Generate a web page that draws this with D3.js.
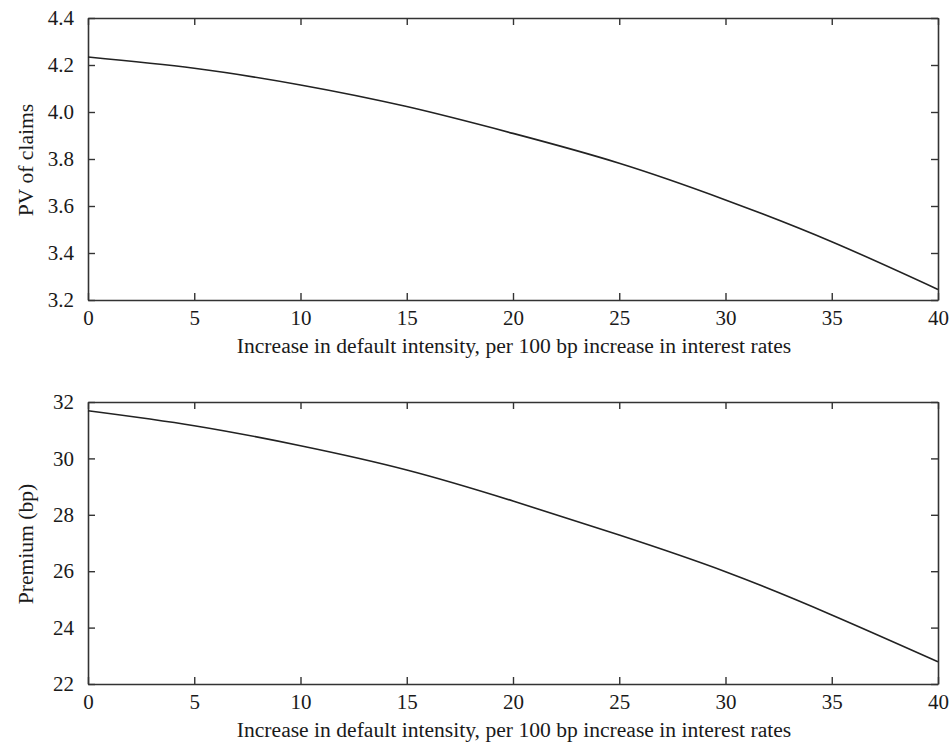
<!DOCTYPE html>
<html>
<head>
<meta charset="utf-8">
<script src="https://cdn.jsdelivr.net/npm/d3@7"></script>
<style>
  html, body { margin: 0; padding: 0; background: #fff; }
  svg { display: block; }
  text { font-family: "Liberation Serif", "Times New Roman", serif; fill: #1a1a1a; }
</style>
</head>
<body>
<svg id="chart" width="951" height="742"></svg>
<script>
// ---- data ----
const intensity = [0, 5, 10, 15, 20, 25, 30, 35, 40];
const pvClaims  = [4.234, 4.186, 4.115, 4.023, 3.909, 3.782, 3.626, 3.448, 3.245];
const premium   = [31.69, 31.16, 30.45, 29.59, 28.49, 27.28, 25.98, 24.45, 22.79];
const xTicks      = [0, 5, 10, 15, 20, 25, 30, 35, 40];
const pvTicks     = [3.2, 3.4, 3.6, 3.8, 4.0, 4.2, 4.4];
const premTicks   = [22, 24, 26, 28, 30, 32];
const xLabel   = "Increase in default intensity, per 100 bp increase in interest rates";
const pvLabel  = "PV of claims";
const premLabel = "Premium (bp)";

const svg = d3.select("#chart");
const left = 88, right = 938;
const axisColor = "#333";
const tickFont = 21;
const labelFont = 21.6;

function panel(top, bottom, yDomain, yTicks, yFmt, ys, yLabel) {
  const g = svg.append("g");
  const x = d3.scaleLinear().domain([0, 40]).range([left, right]);
  const y = d3.scaleLinear().domain(yDomain).range([bottom, top]);
  const tick = 7;

  const gb = g.append("g").attr("transform", `translate(0,${bottom})`)
    .call(d3.axisBottom(x).tickValues(xTicks).tickFormat(d3.format("d"))
      .tickSizeInner(-tick).tickSizeOuter(0).tickPadding(10));
  const gt = g.append("g").attr("transform", `translate(0,${top})`)
    .call(d3.axisTop(x).tickValues(xTicks).tickFormat("")
      .tickSizeInner(-tick).tickSizeOuter(0));
  const gl = g.append("g").attr("transform", `translate(${left},0)`)
    .call(d3.axisLeft(y).tickValues(yTicks).tickFormat(yFmt)
      .tickSizeInner(-tick).tickSizeOuter(0).tickPadding(14));
  const gr = g.append("g").attr("transform", `translate(${right},0)`)
    .call(d3.axisRight(y).tickValues(yTicks).tickFormat("")
      .tickSizeInner(-tick).tickSizeOuter(0));

  [gb, gt, gl, gr].forEach(a => {
    a.attr("font-family", null).attr("font-size", null);
    a.select(".domain").attr("stroke", axisColor).attr("stroke-width", 1.6);
    a.selectAll(".tick line").attr("stroke", axisColor).attr("stroke-width", 1.4);
    a.selectAll(".tick text").attr("font-size", tickFont)
      .attr("font-family", '"Liberation Serif", serif').attr("fill", "#1a1a1a");
  });

  const line = d3.line()
    .x((d, i) => x(intensity[i]))
    .y(d => y(d))
    .curve(d3.curveNatural);
  g.append("path").datum(ys)
    .attr("fill", "none").attr("stroke", "#222").attr("stroke-width", 1.6)
    .attr("d", line);

  g.append("text")
    .attr("x", (left + right) / 2 + 1)
    .attr("y", bottom + 53)
    .attr("text-anchor", "middle")
    .attr("font-size", labelFont)
    .text(xLabel);

  g.append("text")
    .attr("transform", `translate(33,${(top + bottom) / 2 + 1}) rotate(-90)`)
    .attr("text-anchor", "middle")
    .attr("font-size", labelFont)
    .text(yLabel);
}

panel(18, 300, [3.2, 4.4], pvTicks, d3.format(".1f"), pvClaims, pvLabel);
panel(402, 684, [22, 32], premTicks, d3.format("d"), premium, premLabel);
</script>
</body>
</html>
